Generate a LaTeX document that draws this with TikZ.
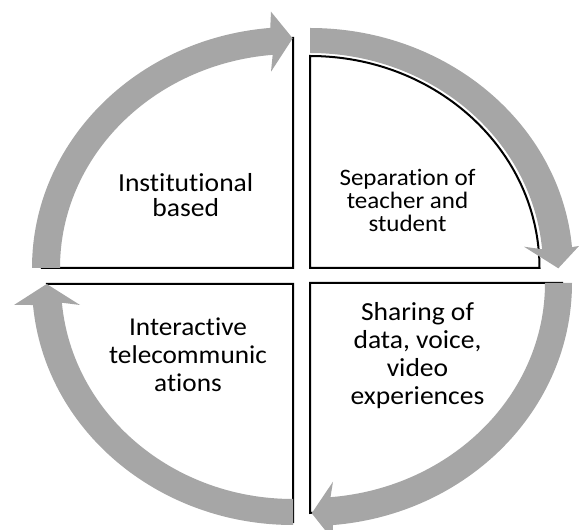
\documentclass[tikz,border=0pt]{standalone}
\usepackage{fontspec}
\setmainfont{Carlito}[FakeStretch=1.06, Ligatures={NoCommon,NoContextual}]
\usetikzlibrary{calc}
\definecolor{arrowgray}{RGB}{166,166,166}
\tikzset{
  quad/.style={draw=black, line width=2pt, fill=white, line join=miter},
  cyclearrow/.style={fill=arrowgray, draw=none},
  lbl/.style={align=center, anchor=base, inner sep=0pt, text=black}
}
\begin{document}
\begin{tikzpicture}[x=1pt,y=1pt]
\clip (0,0) rectangle (579,530);
% centres of the four quarters
\coordinate (c1) at (293,262);
\coordinate (c2) at (310,262);
\coordinate (c3) at (310,247);
\coordinate (c4) at (293,246);
% quarter shapes
\draw[quad] (c1) -- ($(c1)+(-251,0)$) arc[start angle=180, end angle=90, x radius=251pt, y radius=230pt] -- cycle;
\draw[quad] (c2) -- ($(c2)+(0,212)$) arc[start angle=90, end angle=0, x radius=229.5pt, y radius=212pt] -- cycle;
\draw[quad] (c3) -- ($(c3)+(252,0)$) arc[start angle=0, end angle=-90, x radius=252pt, y radius=230pt] -- cycle;
\draw[quad] (c4) -- ($(c4)+(-246,0)$) arc[start angle=180, end angle=270, x radius=246pt, y radius=238pt] -- cycle;
% circular arrows
\fill[cyclearrow] ($(c1)+(180:261pt and 241pt)$) arc[start angle=180, end angle=95, x radius=261pt, y radius=241pt]
  -- (271,518.3) -- (292.7,491.7) -- (271,458.3)
  -- ($(c1)+(95:233pt and 214pt)$) arc[start angle=95, end angle=180, x radius=233pt, y radius=214pt] -- cycle;
\fill[cyclearrow] ($(c2)+(90:263pt and 240pt)$) arc[start angle=90, end angle=5, x radius=263pt, y radius=240pt]
  -- (579,284) -- (558.3,261.7) -- (524,283.3)
  -- ($(c2)+(5:233pt and 215pt)$) arc[start angle=5, end angle=90, x radius=233pt, y radius=215pt] -- cycle;
\fill[cyclearrow] ($(c3)+(0:262pt and 243pt)$) arc[start angle=0, end angle=-85, x radius=262pt, y radius=243pt]
  -- (333,-10) -- (311.7,16.7) -- (333,48.3)
  -- ($(c3)+(-85:235pt and 215pt)$) arc[start angle=-85, end angle=0, x radius=235pt, y radius=215pt] -- cycle;
\fill[cyclearrow] ($(c4)+(270:261pt and 241pt)$) arc[start angle=270, end angle=185, x radius=261pt, y radius=241pt]
  -- (14,225) -- (46.7,246) -- (80,225)
  -- ($(c4)+(185:232pt and 215pt)$) arc[start angle=185, end angle=270, x radius=232pt, y radius=215pt] -- cycle;
% labels (base anchor = baseline of the last line)
\node[lbl, font=\fontsize{26}{25.5}\selectfont] (t1) at (185.7,313.3) {Institutional\\based};
\node[lbl, font=\fontsize{23.6}{23.3}\selectfont] (t2) at (407.5,298.3) {Separation of\\teacher and\\student};
\node[lbl, font=\fontsize{26}{28.3}\selectfont] (t3) at (417.5,125) {Sharing of\\data, voice,\\video\\experiences};
\node[lbl, font=\fontsize{25.7}{28.3}\selectfont] (t4) at (188,138.3) {Interactive\\telecommunic\\ations};
\end{tikzpicture}
\end{document}
